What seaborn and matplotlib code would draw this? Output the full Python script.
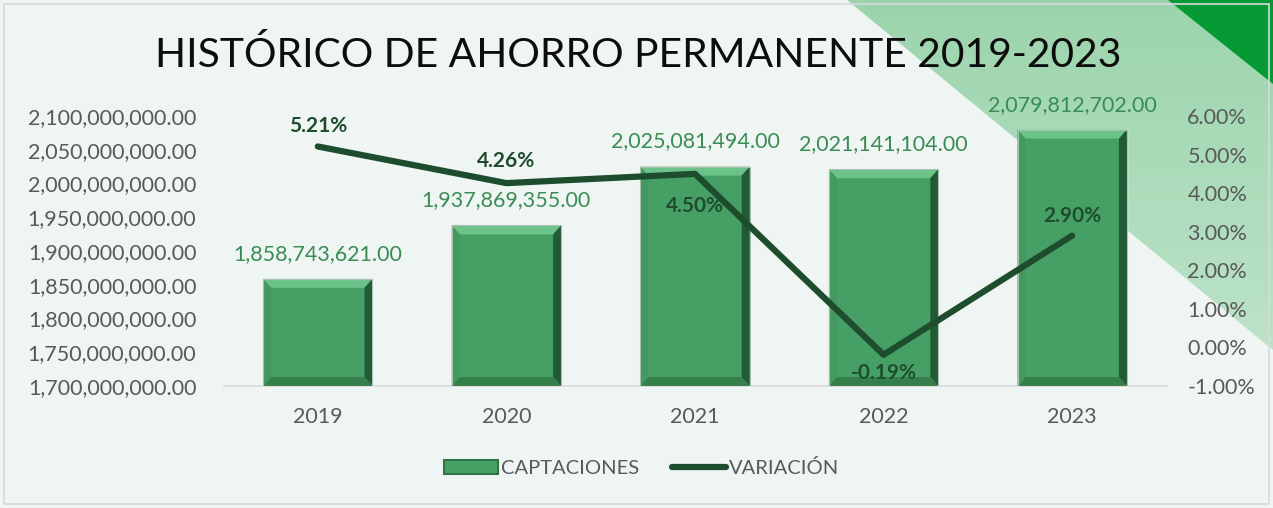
import numpy as np
import pandas as pd
import matplotlib
matplotlib.use("Agg")
import matplotlib.pyplot as plt
import seaborn as sns
from matplotlib.patches import Polygon, Rectangle
from matplotlib.lines import Line2D
from matplotlib.ticker import FuncFormatter

### Datos
anios = ["2019", "2020", "2021", "2022", "2023"]
captaciones = [1858743621.00, 1937869355.00, 2025081494.00, 2021141104.00, 2079812702.00]
variacion = [0.0521, 0.0426, 0.0450, -0.0019, 0.0290]
titulo = "HISTÓRICO DE AHORRO PERMANENTE 2019-2023"

df = pd.DataFrame({"Año": anios, "Captaciones": captaciones, "Variación": variacion})

### Estilo
sns.set_theme(style = "white")
plt.rcParams["font.family"] = ["Lato", "DejaVu Sans"]
gris = "#595959"
verde_barra = "#46A065"
verde_linea = "#1E4D2D"
verde_etiqueta = "#3A8C55"
fondo = "#EFF5F3"
tam = 15.5

W, H = 1273, 508
fig = plt.figure(figsize = (W / 100, H / 100), dpi = 100, facecolor = fondo)

# Fondo decorativo (bandas diagonales)
bg = fig.add_axes([0, 0, 1, 1], zorder = -5)
bg.set_xlim(0, W)
bg.set_ylim(H, 0)
bg.axis("off")
banda = Polygon([(847, 0), (W, 0), (W, 350)], closed = True, facecolor = "none", edgecolor = "none")
bg.add_patch(banda)
grad = np.linspace(0, 1, 256).reshape(-1, 1)
cmap_banda = matplotlib.colors.LinearSegmentedColormap.from_list("banda", ["#9BD4AC", "#BCE3C8"])
img = bg.imshow(grad, extent = (847, W, 350, 0), cmap = cmap_banda, aspect = "auto", zorder = 1)
img.set_clip_path(banda)
bg.add_patch(Polygon([(1168, 0), (W, 0), (W, 84)], closed = True, facecolor = "#069A34", edgecolor = "none", zorder = 2))
bg.add_patch(Rectangle((4, 4), W - 8, H - 8, facecolor = "none", edgecolor = "#D9D9D9", linewidth = 1.2, zorder = 3))

### Eje principal
ax = fig.add_axes([223.5 / W, (H - 386) / H, (1166.5 - 223.5) / W, (386 - 116) / H])
ax.set_facecolor("none")
sns.barplot(data = df, x = "Año", y = "Captaciones", color = verde_barra, width = 0.58,
            saturation = 1, ax = ax, zorder = 2)
ax.set_xlim(-0.5, len(anios) - 0.5)
ax.set_ylim(1.7e9, 2.1e9)
ax.set_yticks(np.arange(1.7e9, 2.1e9 + 1, 0.05e9))
ax.yaxis.set_major_formatter(FuncFormatter(lambda v, p: f"{v:,.2f}"))
ax.set_xlabel("")
ax.set_ylabel("")
for s in ["top", "left", "right"]:
    ax.spines[s].set_visible(False)
ax.spines["bottom"].set_color("#D9D9D9")
ax.spines["bottom"].set_linewidth(1.2)
ax.tick_params(axis = "y", length = 0, pad = 19.5, labelsize = tam, labelcolor = gris)
ax.tick_params(axis = "x", length = 0, pad = 15, labelsize = tam, labelcolor = gris)

# Bisel de las barras
bis_x = 8 / 189
bis_y = 9 * 0.4e9 / 270
for p in ax.patches:
    x0, w = p.get_x(), p.get_width()
    y0, y1 = ax.get_ylim()[0], p.get_y() + p.get_height()
    x1 = x0 + w
    caras = [
        ([(x0, y1), (x1, y1), (x1 - bis_x, y1 - bis_y), (x0 + bis_x, y1 - bis_y)], "#6CC38A"),
        ([(x1, y1), (x1, y0), (x1 - bis_x, y0 + bis_y), (x1 - bis_x, y1 - bis_y)], "#235A36"),
        ([(x0, y0), (x1, y0), (x1 - bis_x, y0 + bis_y), (x0 + bis_x, y0 + bis_y)], "#357F4B"),
        ([(x0, y0), (x0, y1), (x0 + bis_x, y1 - bis_y), (x0 + bis_x, y0 + bis_y)], "#43995F"),
    ]
    for pts, c in caras:
        ax.add_patch(Polygon(pts, closed = True, facecolor = c, edgecolor = "none", zorder = 3))
    ax.add_patch(Rectangle((x0, y0), w, y1 - y0, facecolor = "none", edgecolor = "#A9BFB0",
                           linewidth = 0.8, zorder = 4))
    ax.annotate(f"{captaciones[int(round(x0 + w / 2))]:,.2f}", (x0 + w / 2, y1), xytext = (0, 18),
                textcoords = "offset points", ha = "center", va = "center", fontsize = tam,
                color = verde_etiqueta, annotation_clip = False)

### Eje secundario
ax2 = ax.twinx()
sns.lineplot(x = np.arange(len(anios)), y = variacion, ax = ax2, color = verde_linea, linewidth = 4.5,
             solid_capstyle = "round", zorder = 5)
ax2.set_ylim(-0.01, 0.06)
ax2.set_yticks(np.arange(-0.01, 0.0601, 0.01))
ax2.yaxis.set_major_formatter(FuncFormatter(lambda v, p: f"{v * 100:.2f}%"))
ax2.set_ylabel("")
for s in ax2.spines.values():
    s.set_visible(False)
ax2.tick_params(axis = "y", length = 0, pad = 15, labelsize = tam, labelcolor = gris)
desp = [15, 16, -23, -13, 14]
for i, (v, d) in enumerate(zip(variacion, desp)):
    ax2.annotate(f"{v * 100:.2f}%", (i, v), xytext = (0, d), textcoords = "offset points",
                 ha = "center", va = "center", fontsize = 15, fontweight = "bold", color = verde_linea)

### Título y leyenda
fig.text(0.501, 0.892, titulo, ha = "center", va = "center", fontsize = 29.3, color = "#0D0D0D")
manejadores = [Rectangle((0, 0), 1, 1, facecolor = verde_barra, edgecolor = "#2F7545", linewidth = 1.5),
               Line2D([0], [0], color = verde_linea, linewidth = 4.5, solid_capstyle = "round")]
fig.legend(manejadores, ["CAPTACIONES", "VARIACIÓN"], loc = "center", bbox_to_anchor = (0.504, 0.079),
           ncol = 2, frameon = False, fontsize = 14.5, labelcolor = gris, handlelength = 2.7,
           handletextpad = 0.15, columnspacing = 1.6)

plt.savefig("out.png", dpi = 100, facecolor = fondo)
